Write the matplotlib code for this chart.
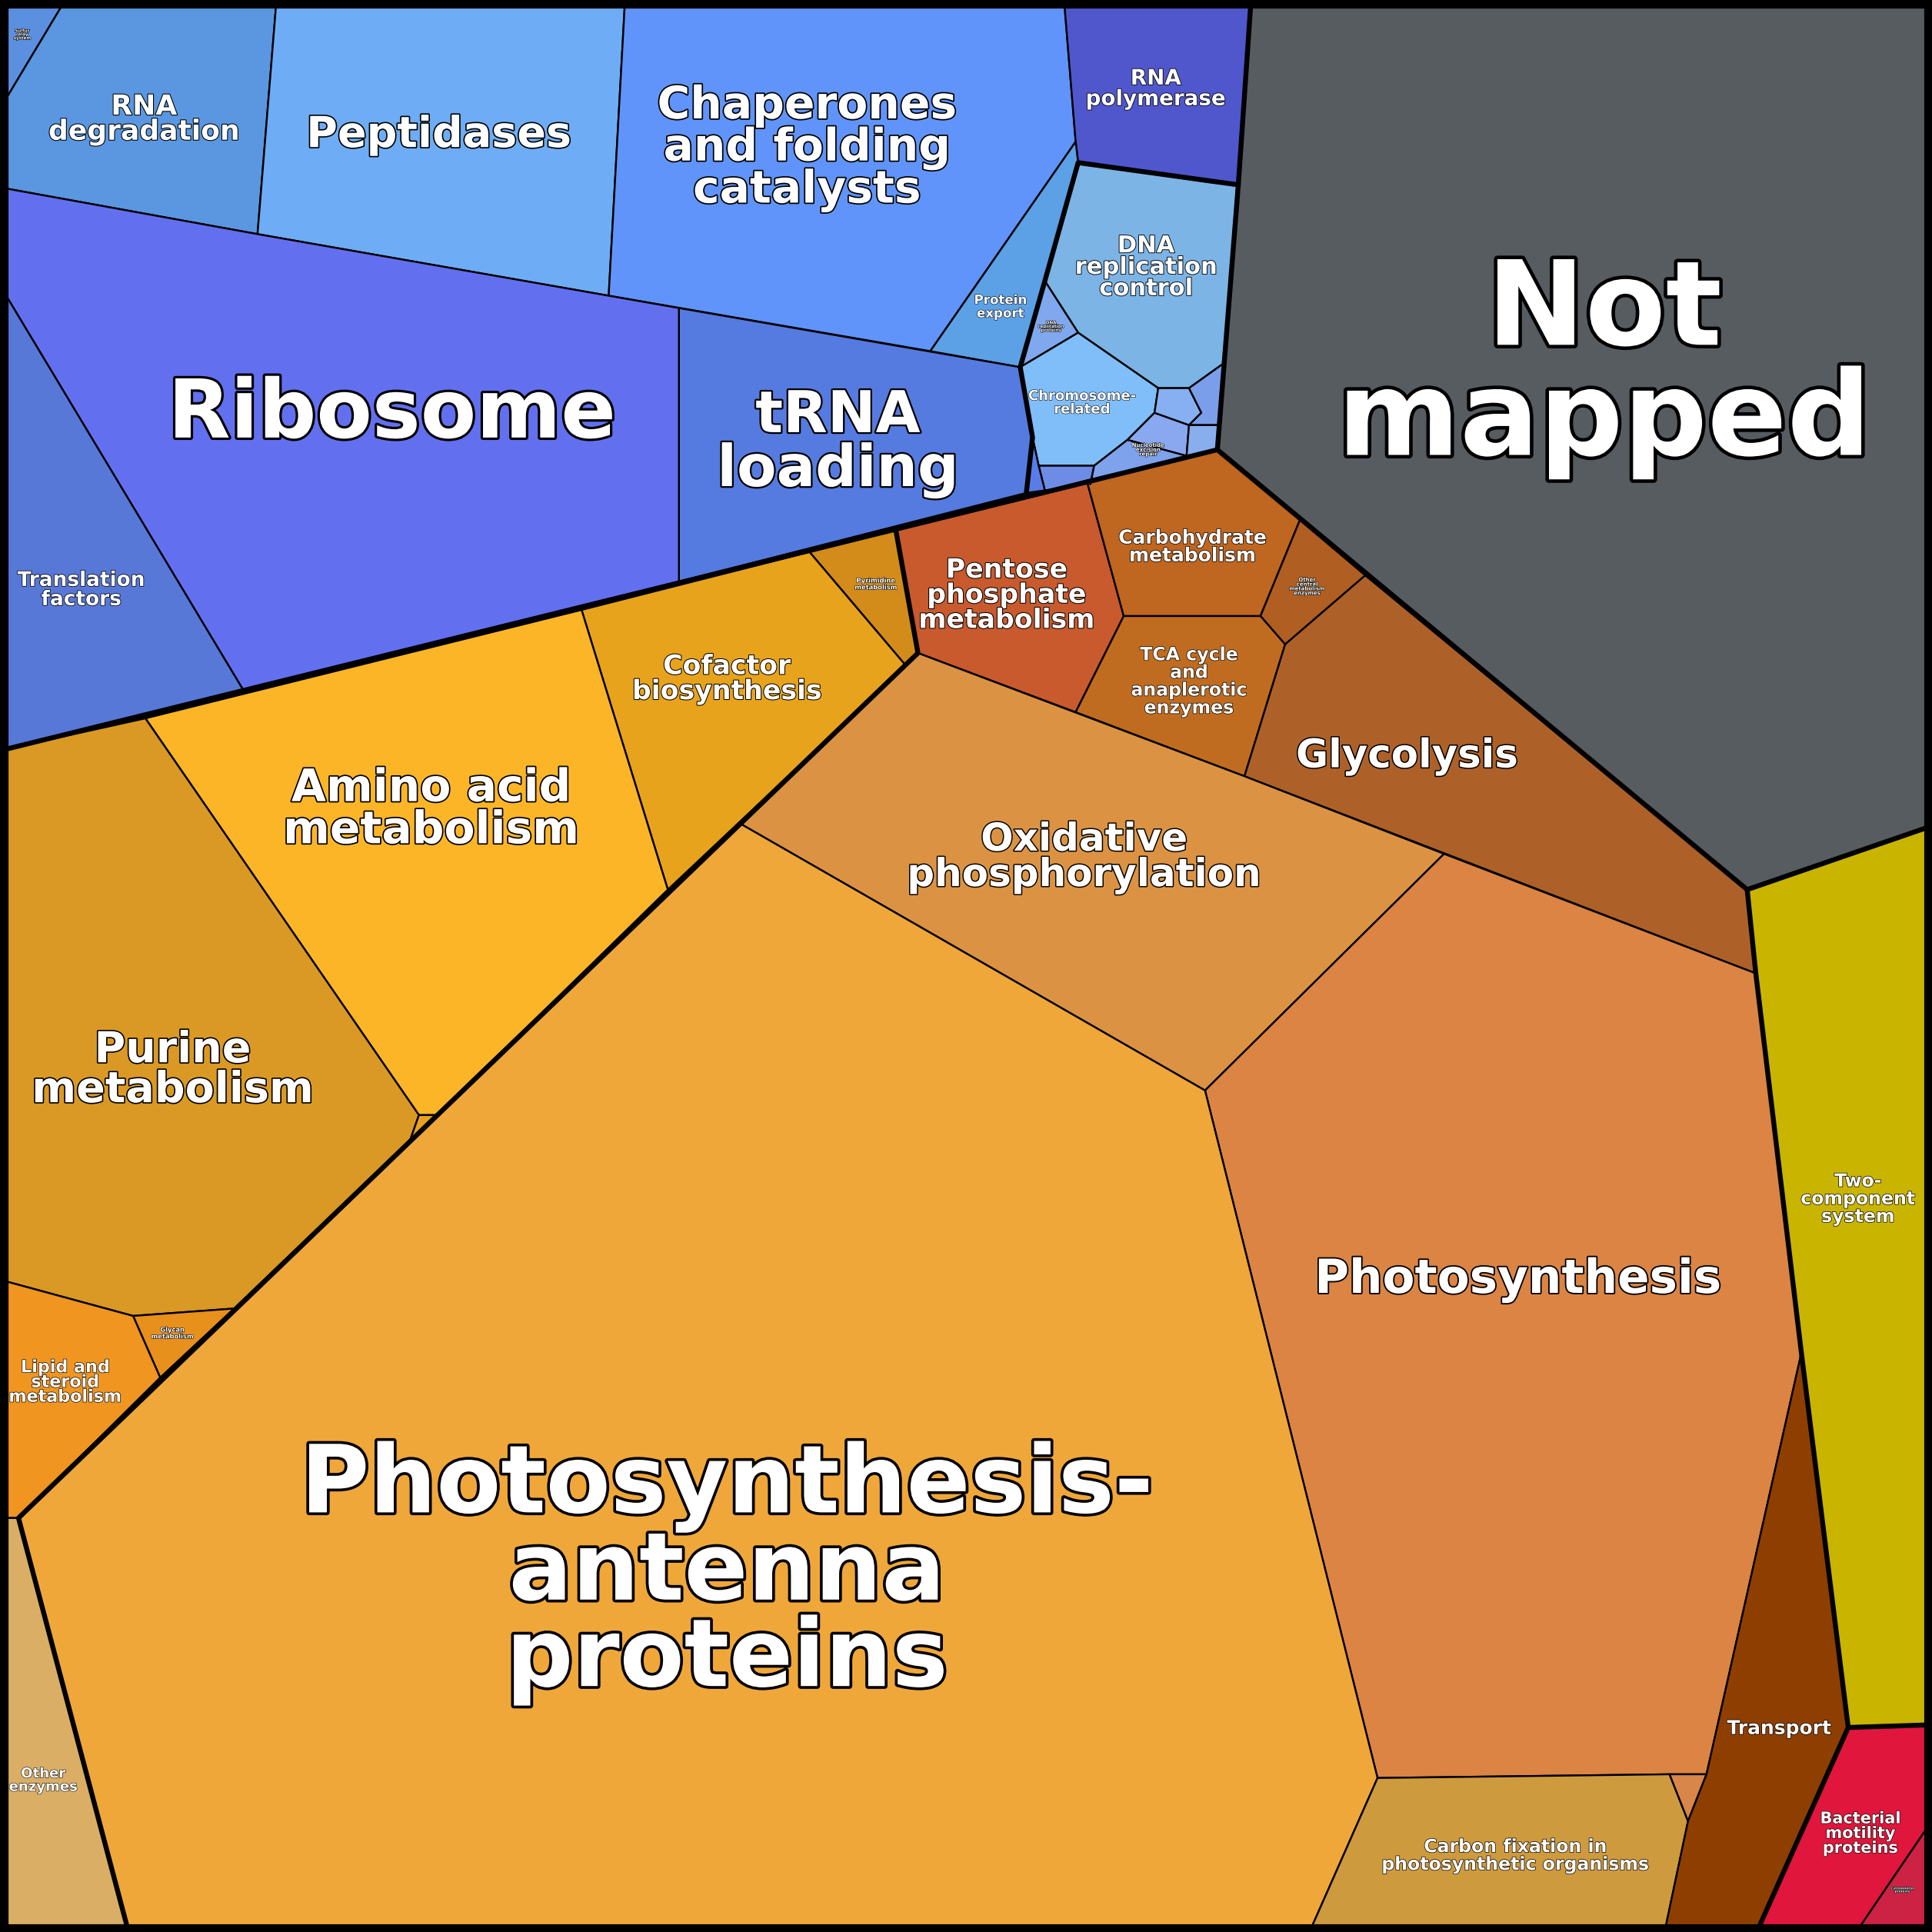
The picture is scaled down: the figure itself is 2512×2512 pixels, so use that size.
import matplotlib
matplotlib.use("Agg")
import matplotlib.pyplot as plt
from matplotlib import patches, patheffects

# Voronoi treemap of functional categories; cell outlines
# (coordinates in a 1568 x 1568 frame, y pointing down)
W = 1568

cell_names = [
    "Sulfur relay system", "RNA degradation", "Peptidases", "Chaperones and folding catalysts",
    "RNA polymerase", "Protein export", "DNA replication control", "DNA replication proteins",
    "Chromosome-related", "Nucleotide excision repair", "Mismatch repair", "Homologous recombination",
    "Base excision repair", "Ribosome biogenesis", "tRNA loading", "Ribosome", "Translation factors",
    "Not mapped",
    "Pyrimidine metabolism", "Cofactor biosynthesis", "Amino acid metabolism", "Purine metabolism",
    "Other metabolism", "Glycan metabolism", "Lipid and steroid metabolism",
    "Pentose phosphate metabolism", "Carbohydrate metabolism", "Other central metabolism enzymes",
    "TCA cycle and anaplerotic enzymes", "Glycolysis",
    "Oxidative phosphorylation", "Photosynthesis", "Photosynthesis-antenna proteins",
    "Carbon fixation in photosynthetic organisms", "Other photosynthesis", "Other enzymes",
    "Transport", "Two-component system", "Bacterial motility proteins", "Cytoskeleton proteins",
    "Translation other", "Replication other",
]

cell_colors = [
    "#5B8FE0", "#5A97E0", "#6EADF5", "#6094FA",
    "#5057CC", "#5CA0E6", "#7CB4E6", "#7FA8EE",
    "#80BEFA", "#8AA8F0", "#86B0F2", "#7A9EEA",
    "#88AEEE", "#6E8CE6", "#557BE0", "#6270F0", "#5878D8",
    "#575C61",
    "#D38C1A", "#E8A31C", "#FDB528", "#DA9924",
    "#E8A020", "#E8901C", "#F0951F",
    "#C85A2E", "#BF6620", "#B05E22",
    "#C06C20", "#AD6128",
    "#DB9343", "#DB8444", "#F0A73A",
    "#CE9A3E", "#D8864A", "#DAAE65",
    "#8E3F00", "#C9B400", "#E0163C", "#CC2244",
    "#5A7CE8", "#7EA2EC",
]

cell_outlines = [
    [(5, 5), (50, 5), (5, 80)],
    [(50, 5), (224, 5), (209, 190), (5, 153), (5, 80)],
    [(224, 5), (507, 5), (494, 240), (209, 190)],
    [(507, 5), (864, 5), (873, 115), (755, 285), (494, 240)],
    [(864, 5), (1015, 5), (1005, 150), (982, 148), (875, 132), (873, 115)],
    [(873, 115), (875, 132), (848, 228), (828, 298), (755, 285)],
    [(875, 132), (982, 148), (1004, 150), (993, 295), (965, 315), (940, 315), (875, 270), (848, 228)],
    [(848, 228), (875, 270), (828, 298)],
    [(828, 298), (875, 270), (940, 315), (937, 335), (915, 357), (888, 378), (843, 378), (838, 355)],
    [(937, 335), (965, 345), (963, 370), (915, 357)],
    [(940, 315), (965, 315), (975, 335), (965, 345), (937, 335)],
    [(965, 315), (993, 295), (990, 345), (965, 345), (975, 335)],
    [(965, 345), (990, 345), (988, 365), (963, 370)],
    [(843, 378), (888, 378), (885, 393), (848, 398)],
    [(551, 250), (828, 298), (838, 355), (833, 400), (551, 472)],
    [(5, 153), (209, 190), (494, 240), (551, 250), (551, 472), (198, 561), (5, 240)],
    [(5, 240), (198, 561), (5, 608)],
    [(1015, 5), (1563, 5), (1563, 672), (1418, 722), (988, 365), (1005, 150)],
    [(657, 448), (727, 430), (745, 530), (735, 540)],
    [(472, 495), (657, 448), (735, 540), (542, 722)],
    [(118, 583), (472, 495), (542, 722), (355, 905), (340, 905)],
    [(5, 608), (118, 583), (340, 905), (333, 925), (190, 1062), (108, 1068), (5, 1040)],
    [(340, 905), (355, 905), (333, 925)],
    [(108, 1068), (190, 1062), (130, 1118)],
    [(5, 1040), (108, 1068), (130, 1118), (15, 1232), (5, 1232)],
    [(727, 430), (882, 390), (912, 500), (873, 578), (745, 530)],
    [(882, 390), (988, 365), (1055, 422), (1023, 500), (912, 500)],
    [(1055, 422), (1108, 467), (1043, 523), (1023, 500)],
    [(912, 500), (1023, 500), (1043, 523), (1010, 630), (873, 578)],
    [(1108, 467), (1418, 722), (1425, 790), (1010, 630), (1043, 523)],
    [(745, 530), (1010, 630), (1172, 693), (978, 885), (600, 668)],
    [(1172, 693), (1425, 790), (1462, 1098), (1385, 1440), (1355, 1440), (1118, 1443), (978, 885)],
    [(600, 668), (978, 885), (1118, 1443), (1065, 1563), (103, 1563), (15, 1232)],
    [(1118, 1443), (1355, 1440), (1370, 1478), (1352, 1563), (1065, 1563)],
    [(1355, 1440), (1385, 1440), (1370, 1478)],
    [(5, 1232), (15, 1232), (103, 1563), (5, 1563)],
    [(1462, 1098), (1500, 1402), (1428, 1563), (1352, 1563), (1370, 1478), (1385, 1440)],
    [(1418, 722), (1563, 672), (1563, 1400), (1500, 1402), (1462, 1098), (1425, 790)],
    [(1500, 1402), (1563, 1400), (1563, 1485), (1510, 1563), (1428, 1563)],
    [(1563, 1485), (1563, 1563), (1510, 1563)],
    [(838, 355), (843, 378), (848, 398), (833, 400)],
    [(888, 378), (915, 357), (963, 370), (988, 365), (882, 390), (885, 393)],
]

# label text, centre, font size (pt)
label_texts = [
    "Sulfur\nrelay\nsystem", "RNA\ndegradation", "Peptidases", "Chaperones\nand folding\ncatalysts",
    "RNA\npolymerase", "Protein\nexport", "DNA\nreplication\ncontrol", "DNA\nreplication\nproteins",
    "Chromosome-\nrelated", "Nucleotide\nexcision\nrepair", "", "", "", "",
    "tRNA\nloading", "Ribosome", "Translation\nfactors",
    "Not\nmapped",
    "Pyrimidine\nmetabolism", "Cofactor\nbiosynthesis", "Amino acid\nmetabolism", "Purine\nmetabolism",
    "", "Glycan\nmetabolism", "Lipid and\nsteroid\nmetabolism",
    "Pentose\nphosphate\nmetabolism", "Carbohydrate\nmetabolism", "Other\ncentral\nmetabolism\nenzymes",
    "TCA cycle\nand\nanaplerotic\nenzymes", "Glycolysis",
    "Oxidative\nphosphorylation", "Photosynthesis", "Photosynthesis-\nantenna\nproteins",
    "Carbon fixation in\nphotosynthetic organisms", "", "Other\nenzymes",
    "Transport", "Two-\ncomponent\nsystem", "Bacterial\nmotility\nproteins", "Cytoskeleton\nproteins",
    "", "",
]
label_x = [18, 117, 356, 655, 938, 812, 930, 853, 878, 932, 0, 0, 0, 0,
           680, 318, 66, 1302, 711, 590, 350, 140, 0, 140, 53,
           817, 968, 1061, 965, 1142, 880, 1232, 590, 1230, 0, 35,
           1444, 1508, 1510, 1544, 0, 0]
label_y = [28, 97, 110, 120, 72, 249, 217, 265, 327, 365, 0, 0, 0, 0,
           360, 337, 479, 298, 474, 551, 657, 869, 0, 1082, 1122,
           483, 444, 476, 553, 614, 696, 1039, 1277, 1506, 0, 1445,
           1403, 973, 1488, 1534, 0, 0]
label_size = [4, 26, 40, 42, 20, 12, 22, 4, 13, 5, 0, 0, 0, 0,
              54, 76, 19, 110, 6, 25, 42, 40, 0, 6, 16,
              25, 18, 5, 17, 37, 36, 44, 88, 17, 0, 13,
              18, 17, 15, 3, 0, 0]

# top-level group borders drawn heavier
group_borders = [
    [(988, 365), (5, 608)],
    [(1015, 5), (1005, 150), (988, 365), (1418, 722), (1563, 672)],
    [(727, 430), (745, 530), (15, 1232), (103, 1563)],
    [(1418, 722), (1425, 790), (1462, 1098), (1500, 1402), (1563, 1400)],
    [(1500, 1402), (1428, 1563)],
    [(828, 298), (838, 355), (833, 400)],
    [(828, 298), (848, 228), (875, 132), (1005, 150)],
]

scale = 2512 / W
fig = plt.figure(figsize=(25.12, 25.12), dpi=100)
ax = fig.add_axes([0, 0, 1, 1])
ax.set_xlim(0, W)
ax.set_ylim(W, 0)
ax.axis("off")
fig.patch.set_facecolor("black")

thin = 1.5 * scale * 0.72
for outline, col in zip(cell_outlines, cell_colors):
    ax.add_patch(patches.Polygon(outline, closed=True, facecolor=col,
                                 edgecolor="black", lw=thin, joinstyle="round"))

for line in group_borders:
    xs, ys = zip(*line)
    ax.plot(xs, ys, color="black", lw=4 * scale * 0.72, solid_capstyle="round",
            solid_joinstyle="round")

ax.add_patch(patches.Rectangle((3, 3), W - 6, W - 6, fill=False, edgecolor="black",
                               lw=7 * scale * 0.72))

for txt, x, y, s in zip(label_texts, label_x, label_y, label_size):
    if not txt:
        continue
    stroke = max(0.8, s * 0.06)
    ax.text(x, y, txt, ha="center", va="center", fontsize=s, fontweight="bold",
            color="white", linespacing=0.95, family="DejaVu Sans",
            path_effects=[patheffects.withStroke(linewidth=stroke, foreground="black")])

fig.savefig("out.png", dpi=100, facecolor="black")
